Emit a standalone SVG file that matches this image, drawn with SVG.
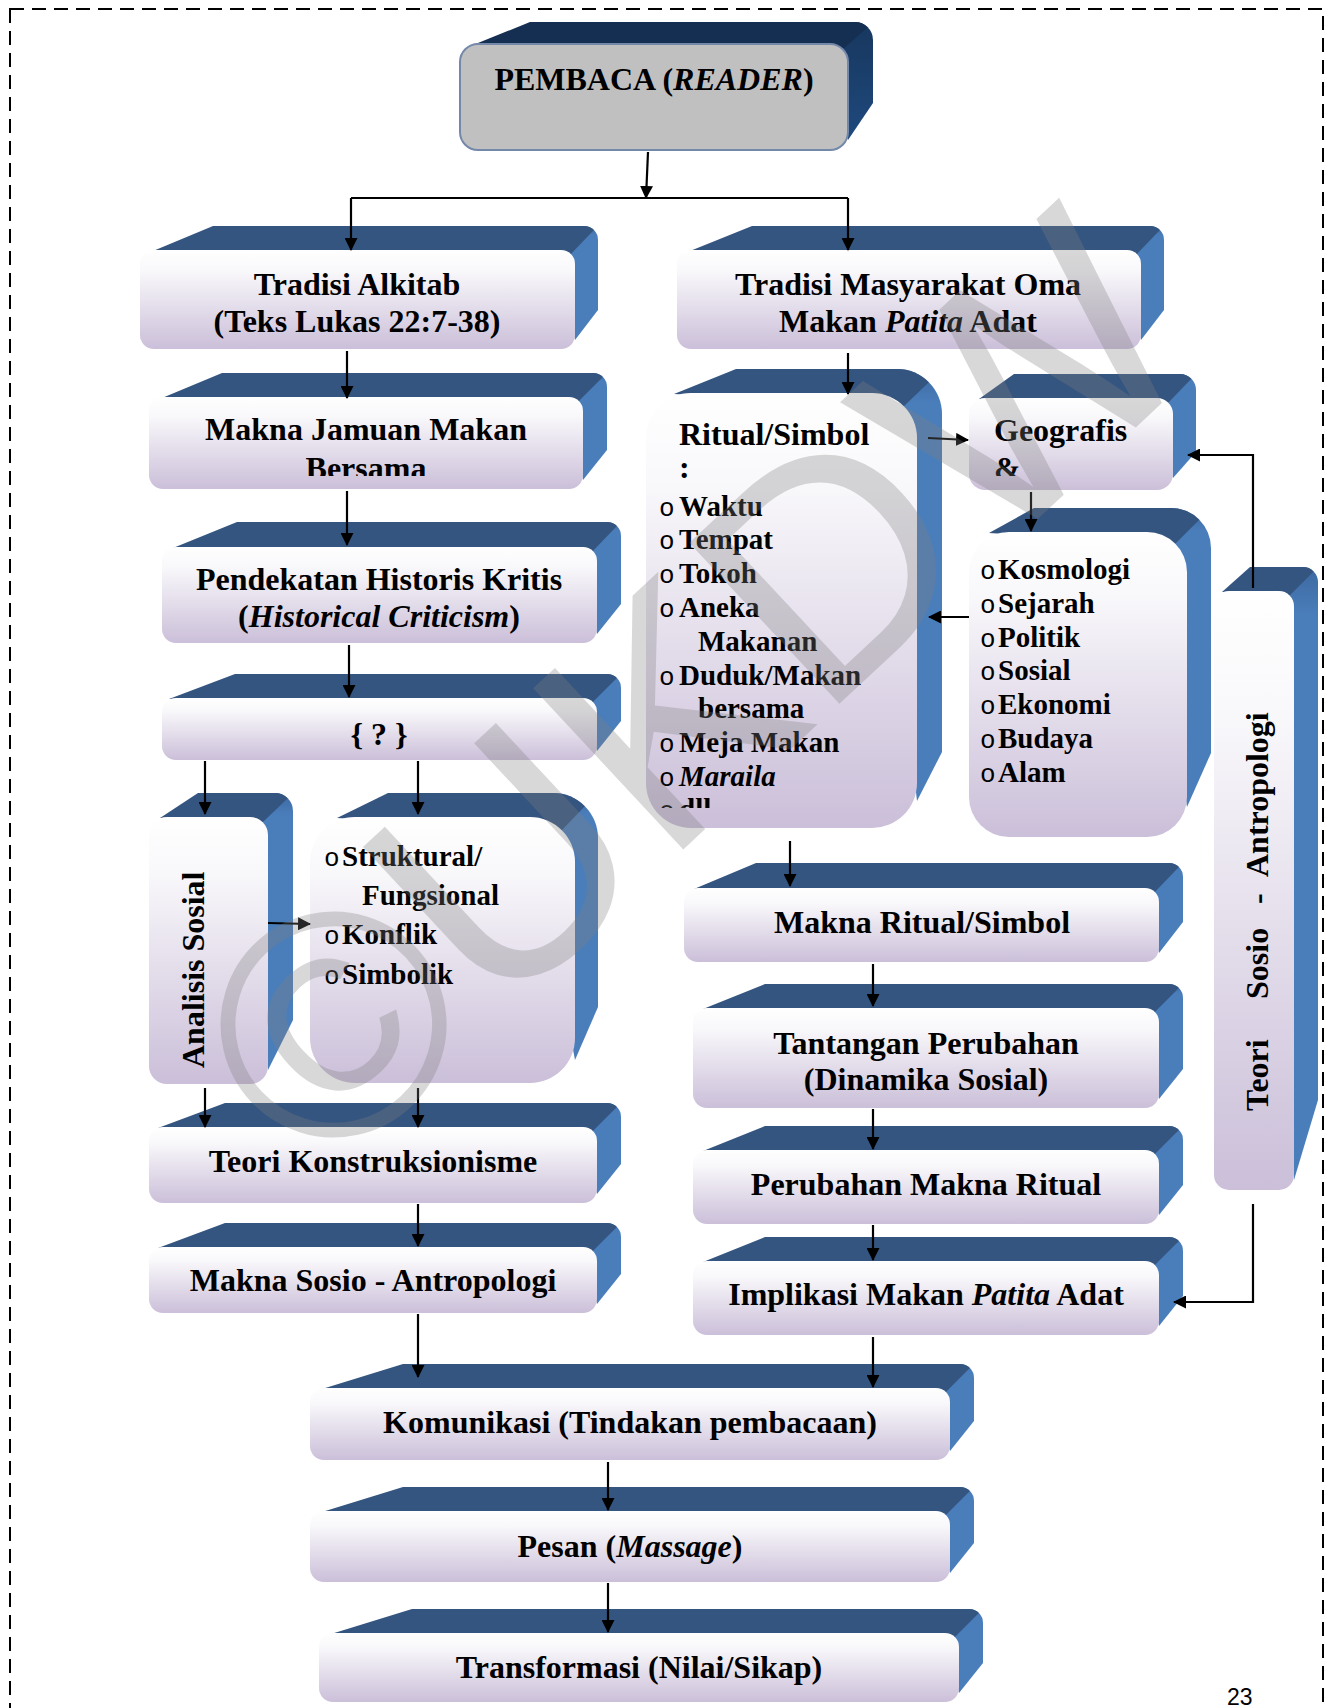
<svg xmlns="http://www.w3.org/2000/svg" width="1325" height="1708" viewBox="0 0 1325 1708">
<defs>
<linearGradient id="gf" x1="0" y1="0" x2="0" y2="1">
<stop offset="0" stop-color="#ffffff"/><stop offset="0.22" stop-color="#f8f7fa"/><stop offset="1" stop-color="#cbbfd9"/>
</linearGradient>
<linearGradient id="gs" x1="0" y1="0" x2="0" y2="1">
<stop offset="0" stop-color="#3d68a0"/><stop offset="0.08" stop-color="#4a7ebb"/><stop offset="1" stop-color="#4a7ebb"/>
</linearGradient>
<linearGradient id="gps" x1="0" y1="0" x2="0" y2="1">
<stop offset="0" stop-color="#17375e"/><stop offset="1" stop-color="#1f497d"/>
</linearGradient>
<marker id="ah" markerWidth="13" markerHeight="13" refX="12" refY="6.5" orient="auto" markerUnits="userSpaceOnUse">
<path d="M0,0 L13,6.5 L0,13 Z" fill="#000"/>
</marker>
<clipPath id="clipJam"><rect x="140" y="380" width="460" height="96"/></clipPath>
<clipPath id="clipGeo"><rect x="960" y="380" width="220" height="96"/></clipPath>
<clipPath id="clipRit"><rect x="640" y="380" width="280" height="428"/></clipPath>
<style>
.t{font-family:"Liberation Serif","Times New Roman",serif;font-weight:bold;font-size:32px;fill:#000}
.m{text-anchor:middle}
.li{font-size:29px}
.b{font-family:"Liberation Mono","Courier New",monospace;font-weight:normal;font-size:26px}
.i{font-style:italic}
.top{fill:#355581}
.side{fill:url(#gs)}
.front{fill:url(#gf)}
.c{stroke:#000;stroke-width:2.2;fill:none;marker-end:url(#ah)}
.ln{stroke:#000;stroke-width:2.2;fill:none}
</style>
</defs>
<rect x="0" y="0" width="1325" height="1708" fill="#ffffff"/>
<rect x="10" y="9" width="1313" height="1730" fill="none" stroke="#000" stroke-width="2" stroke-dasharray="14 8"/>
<text x="1227" y="1705" font-family="Liberation Sans, Arial, sans-serif" font-size="23" fill="#000">23</text>

<g id="pembaca">
<path d="M830,44 L855,22 A18,18 0 0 1 873,40 L873,103 L848,140 Z" fill="url(#gps)"/>
<path d="M473,45 L530,22 L855,22 A18,18 0 0 1 867.7,27.3 L842.7,49.3 Z" fill="#152f52"/>
<rect x="460" y="44" width="388" height="106" rx="18" fill="#c0c0c0" stroke="#7488aa" stroke-width="2"/>
<text class="t m" x="654" y="90">PEMBACA (<tspan class="i">READER</tspan>)</text>
</g>

<g id="tradisi-alkitab">
<path class="side" d="M561,250 L584,226 A14,14 0 0 1 598,240 L598,310 L575,340 Z"/>
<path class="top" d="M153,251 L213,226 L584,226 A14,14 0 0 1 593.9,230.1 L570.9,254.1 Z"/>
<rect class="front" x="140" y="250" width="435" height="99" rx="14"/>
<text class="t m" x="357" y="295">Tradisi Alkitab</text>
<text class="t m" x="357" y="332">(Teks Lukas 22:7-38)</text>
</g>

<g id="tradisi-oma">
<path class="side" d="M1127,250 L1150,226 A14,14 0 0 1 1164,240 L1164,310 L1141,340 Z"/>
<path class="top" d="M690,251 L752,226 L1150,226 A14,14 0 0 1 1159.9,230.1 L1136.9,254.1 Z"/>
<rect class="front" x="677" y="250" width="464" height="99" rx="14"/>
<text class="t m" x="908" y="295">Tradisi Masyarakat Oma</text>
<text class="t m" x="908" y="332">Makan <tspan class="i">Patita</tspan> Adat</text>
</g>

<g id="makna-jamuan">
<path class="side" d="M569,397 L593,373 A14,14 0 0 1 607,387 L607,450 L583,480 Z"/>
<path class="top" d="M162,398 L222,373 L593,373 A14,14 0 0 1 602.9,377.1 L578.9,401.1 Z"/>
<rect class="front" x="149" y="397" width="434" height="92" rx="14"/>
<g clip-path="url(#clipJam)">
<text class="t m" x="366" y="440">Makna Jamuan Makan</text>
<text class="t m" x="366" y="479">Bersama</text>
</g>
</g>

<g id="pendekatan">
<path class="side" d="M583,547 L607,522 A14,14 0 0 1 621,536 L621,604 L597,634 Z"/>
<path class="top" d="M173,548 L237,522 L607,522 A14,14 0 0 1 616.9,526.1 L592.9,551.1 Z"/>
<rect class="front" x="162" y="547" width="435" height="96" rx="14"/>
<text class="t m" x="379" y="590">Pendekatan Historis Kritis</text>
<text class="t m" x="379" y="627">(<tspan class="i">Historical Criticism</tspan>)</text>
</g>

<g id="tanya">
<path class="side" d="M583,698 L607,674 A14,14 0 0 1 621,688 L621,721 L597,751 Z"/>
<path class="top" d="M169,699 L235,674 L607,674 A14,14 0 0 1 616.9,678.1 L592.9,702.1 Z"/>
<rect class="front" x="162" y="698" width="435" height="62" rx="14"/>
<text class="t m" x="379" y="745">{ ? }</text>
</g>

<g id="analisis-sosial">
<path class="side" d="M250,817 L275,793 A18,18 0 0 1 293,811 L293,1020 L268,1070 Z"/>
<path class="top" d="M160,818 L198,793 L275,793 A18,18 0 0 1 287.7,798.3 L262.7,822.3 Z"/>
<rect class="front" x="149" y="817" width="119" height="267" rx="18"/>
<text class="t" transform="translate(204,0) rotate(-90)" x="-1068" y="0">Analisis Sosial</text>
</g>

<g id="struktural">
<path class="side" d="M530,817 L553,793 A45,45 0 0 1 598,838 L598,1007 L575,1060 Z"/>
<path class="top" d="M337,818 L388,793 L553,793 A45,45 0 0 1 584.8,806.2 L561.8,830.2 Z"/>
<rect class="front" x="310" y="817" width="265" height="266" rx="45"/>
<text class="t li" x="324" y="866"><tspan class="b">o</tspan><tspan x="342">Struktural/</tspan></text>
<text class="t li" x="362" y="905">Fungsional</text>
<text class="t li" x="324" y="944"><tspan class="b">o</tspan><tspan x="342">Konflik</tspan></text>
<text class="t li" x="324" y="984"><tspan class="b">o</tspan><tspan x="342">Simbolik</tspan></text>
</g>

<g id="teori-konstruksionisme">
<path class="side" d="M583,1127 L607,1103 A14,14 0 0 1 621,1117 L621,1164 L597,1194 Z"/>
<path class="top" d="M158,1128 L225,1103 L607,1103 A14,14 0 0 1 616.9,1107.1 L592.9,1131.1 Z"/>
<rect class="front" x="149" y="1127" width="448" height="76" rx="14"/>
<text class="t m" x="373" y="1172">Teori Konstruksionisme</text>
</g>

<g id="makna-sosio">
<path class="side" d="M583,1247 L607,1223 A14,14 0 0 1 621,1237 L621,1274 L597,1304 Z"/>
<path class="top" d="M158,1248 L225,1223 L607,1223 A14,14 0 0 1 616.9,1227.1 L592.9,1251.1 Z"/>
<rect class="front" x="149" y="1247" width="448" height="66" rx="14"/>
<text class="t m" x="373" y="1291">Makna Sosio - Antropologi</text>
</g>

<g id="ritual">
<path class="side" d="M872,393 L897,369 A45,45 0 0 1 942,414 L942,752 L917,801 Z"/>
<path class="top" d="M674,394 L736,369 L897,369 A45,45 0 0 1 928.8,382.2 L903.8,406.2 Z"/>
<rect class="front" x="646" y="393" width="271" height="435" rx="45"/>
<g clip-path="url(#clipRit)">
<text class="t" x="679" y="445">Ritual/Simbol</text>
<text class="t" x="679" y="478">:</text>
<text class="t li" x="659" y="516"><tspan class="b">o</tspan><tspan x="679">Waktu</tspan></text>
<text class="t li" x="659" y="549"><tspan class="b">o</tspan><tspan x="679">Tempat</tspan></text>
<text class="t li" x="659" y="583"><tspan class="b">o</tspan><tspan x="679">Tokoh</tspan></text>
<text class="t li" x="659" y="617"><tspan class="b">o</tspan><tspan x="679">Aneka</tspan></text>
<text class="t li" x="698" y="651">Makanan</text>
<text class="t li" x="659" y="685"><tspan class="b">o</tspan><tspan x="679">Duduk/Makan</tspan></text>
<text class="t li" x="698" y="718">bersama</text>
<text class="t li" x="659" y="752"><tspan class="b">o</tspan><tspan x="679">Meja Makan</tspan></text>
<text class="t li" x="659" y="786"><tspan class="b">o</tspan><tspan x="679" class="i">Maraila</tspan></text>
<text class="t li" x="659" y="819"><tspan class="b">o</tspan><tspan x="679">dll</tspan></text>
</g>
</g>

<g id="geografis">
<path class="side" d="M1157,398 L1180,374 A16,16 0 0 1 1196,390 L1196,452 L1173,478 Z"/>
<path class="top" d="M979,399 L1014,374 L1180,374 A16,16 0 0 1 1191.3,378.7 L1168.3,402.7 Z"/>
<rect class="front" x="969" y="398" width="204" height="92" rx="16"/>
<g clip-path="url(#clipGeo)">
<text class="t" x="994" y="441">Geografis</text>
<text class="t" x="994" y="479">&amp;</text>
</g>
</g>

<g id="kosmologi">
<path class="side" d="M1147,532 L1171,508 A40,40 0 0 1 1211,548 L1211,753 L1187,807 Z"/>
<path class="top" d="M989,533 L1034,508 L1171,508 A40,40 0 0 1 1199.3,519.7 L1175.3,543.7 Z"/>
<rect class="front" x="969" y="532" width="218" height="305" rx="40"/>
<text class="t li" x="980" y="579"><tspan class="b">o</tspan><tspan x="998">Kosmologi</tspan></text>
<text class="t li" x="980" y="613"><tspan class="b">o</tspan><tspan x="998">Sejarah</tspan></text>
<text class="t li" x="980" y="647"><tspan class="b">o</tspan><tspan x="998">Politik</tspan></text>
<text class="t li" x="980" y="680"><tspan class="b">o</tspan><tspan x="998">Sosial</tspan></text>
<text class="t li" x="980" y="714"><tspan class="b">o</tspan><tspan x="998">Ekonomi</tspan></text>
<text class="t li" x="980" y="748"><tspan class="b">o</tspan><tspan x="998">Budaya</tspan></text>
<text class="t li" x="980" y="782"><tspan class="b">o</tspan><tspan x="998">Alam</tspan></text>
</g>

<g id="makna-ritual">
<path class="side" d="M1145,888 L1169,863 A14,14 0 0 1 1183,877 L1183,922 L1159,953 Z"/>
<path class="top" d="M694,889 L756,863 L1169,863 A14,14 0 0 1 1178.9,867.1 L1154.9,892.1 Z"/>
<rect class="front" x="684" y="888" width="475" height="74" rx="14"/>
<text class="t m" x="922" y="933">Makna Ritual/Simbol</text>
</g>

<g id="tantangan">
<path class="side" d="M1145,1008 L1169,984 A14,14 0 0 1 1183,998 L1183,1069 L1159,1099 Z"/>
<path class="top" d="M703,1009 L765,984 L1169,984 A14,14 0 0 1 1178.9,988.1 L1154.9,1012.1 Z"/>
<rect class="front" x="693" y="1008" width="466" height="100" rx="14"/>
<text class="t m" x="926" y="1054">Tantangan Perubahan</text>
<text class="t m" x="926" y="1090">(Dinamika Sosial)</text>
</g>

<g id="perubahan">
<path class="side" d="M1145,1150 L1169,1126 A14,14 0 0 1 1183,1140 L1183,1185 L1159,1215 Z"/>
<path class="top" d="M703,1151 L765,1126 L1169,1126 A14,14 0 0 1 1178.9,1130.1 L1154.9,1154.1 Z"/>
<rect class="front" x="693" y="1150" width="466" height="74" rx="14"/>
<text class="t m" x="926" y="1195">Perubahan Makna Ritual</text>
</g>

<g id="implikasi">
<path class="side" d="M1145,1261 L1169,1237 A14,14 0 0 1 1183,1251 L1183,1296 L1159,1326 Z"/>
<path class="top" d="M703,1262 L765,1237 L1169,1237 A14,14 0 0 1 1178.9,1241.1 L1154.9,1265.1 Z"/>
<rect class="front" x="693" y="1261" width="466" height="74" rx="14"/>
<text class="t m" x="926" y="1305">Implikasi Makan <tspan class="i">Patita</tspan> Adat</text>
</g>

<g id="teori-sosio">
<path class="side" d="M1279,591 L1303,567 A15,15 0 0 1 1318,582 L1318,1100 L1294,1180 Z"/>
<path class="top" d="M1222,592 L1250,567 L1303,567 A15,15 0 0 1 1313.6,571.4 L1289.6,595.4 Z"/>
<rect class="front" x="1214" y="591" width="80" height="599" rx="15"/>
<text class="t" transform="translate(1268,0) rotate(-90)" y="0"><tspan x="-1111">Teori</tspan><tspan x="-999">Sosio</tspan><tspan x="-904">-</tspan><tspan x="-877">Antropologi</tspan></text>
</g>

<g id="komunikasi">
<path class="side" d="M936,1388 L960,1364 A14,14 0 0 1 974,1378 L974,1421 L950,1451 Z"/>
<path class="top" d="M322,1389 L403,1364 L960,1364 A14,14 0 0 1 969.9,1368.1 L945.9,1392.1 Z"/>
<rect class="front" x="310" y="1388" width="640" height="72" rx="14"/>
<text class="t m" x="630" y="1433">Komunikasi (Tindakan pembacaan)</text>
</g>

<g id="pesan">
<path class="side" d="M936,1511 L960,1487 A14,14 0 0 1 974,1501 L974,1543 L950,1573 Z"/>
<path class="top" d="M322,1512 L403,1487 L960,1487 A14,14 0 0 1 969.9,1491.1 L945.9,1515.1 Z"/>
<rect class="front" x="310" y="1511" width="640" height="71" rx="14"/>
<text class="t m" x="630" y="1557">Pesan (<tspan class="i">Massage</tspan>)</text>
</g>

<g id="transformasi">
<path class="side" d="M945,1633 L969,1609 A14,14 0 0 1 983,1623 L983,1663 L959,1693 Z"/>
<path class="top" d="M331,1634 L412,1609 L969,1609 A14,14 0 0 1 978.9,1613.1 L954.9,1637.1 Z"/>
<rect class="front" x="319" y="1633" width="640" height="69" rx="14"/>
<text class="t m" x="639" y="1678">Transformasi (Nilai/Sikap)</text>
</g>

<g id="connectors">
<path class="c" d="M648,152 L646,198"/>
<path class="ln" d="M351,198 L848,198"/>
<path class="c" d="M351,198 L351,250"/>
<path class="c" d="M848,198 L848,250"/>
<path class="c" d="M347,351 L347,398"/>
<path class="c" d="M347,491 L347,545"/>
<path class="c" d="M349,645 L349,697"/>
<path class="c" d="M205,761 L205,814"/>
<path class="c" d="M418,761 L418,814"/>
<path class="c" d="M268,923 L310,924"/>
<path class="c" d="M205,1088 L205,1127"/>
<path class="c" d="M418,1088 L418,1127"/>
<path class="c" d="M418,1204 L418,1246"/>
<path class="c" d="M418,1314 L418,1377"/>
<path class="c" d="M848,353 L848,394"/>
<path class="c" d="M928,438 L968,440"/>
<path class="c" d="M1031,492 L1031,531"/>
<path class="c" d="M969,617 L929,617"/>
<path class="c" d="M790,841 L790,886"/>
<path class="c" d="M873,964 L873,1006"/>
<path class="c" d="M873,1109 L873,1149"/>
<path class="c" d="M873,1225 L873,1260"/>
<path class="c" d="M873,1337 L873,1387"/>
<path class="c" d="M1253,588 L1253,455 L1188,455"/>
<path class="c" d="M1253,1204 L1253,1302 L1174,1302"/>
<path class="c" d="M608,1462 L608,1510"/>
<path class="c" d="M608,1583 L608,1632"/>
</g>

<g id="watermark" opacity="0.3">
<text transform="translate(690,690) rotate(-43)" x="0" y="0" dy="0.35em" text-anchor="middle" font-family="Liberation Sans, Arial, sans-serif" font-size="320" fill="#7f7f7f">©UKDW</text>
</g>
</svg>
